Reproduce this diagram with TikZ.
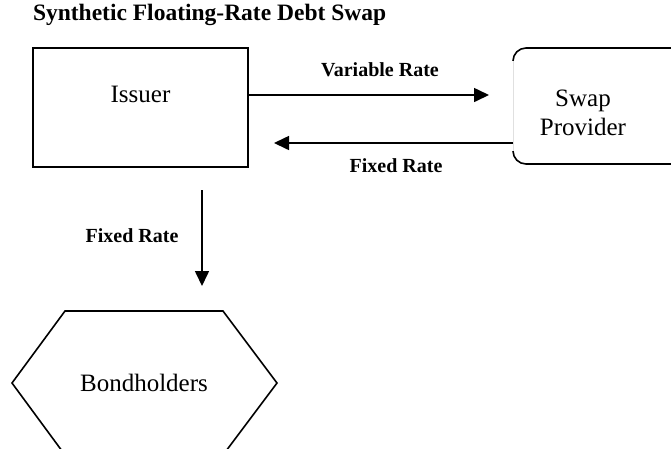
\documentclass[tikz,border=0pt]{standalone}
\usepackage{fontspec}
\setmainfont{Liberation Serif}
\usetikzlibrary{arrows.meta,calc}

\tikzset{
  x=1pt, y=-1pt,
  every node/.style={inner sep=0pt, outer sep=0pt},
  line/.style={line width=1.6pt},
  arr/.style={line width=1.6pt, -{Triangle[length=15pt,width=14pt]}},
  partybox/.style={draw, line width=1.6pt},
  bodytext/.style={font=\fontsize{25}{29}\selectfont, align=center},
  flowlabel/.style={font=\fontsize{20}{24}\selectfont\bfseries},
}

\begin{document}
\begin{tikzpicture}
  \useasboundingbox (0,0) rectangle (671,448);

  % heading
  \node[anchor=west, font=\fontsize{23.5}{28}\selectfont\bfseries] (title) at (33,15)
    {Synthetic Floating-Rate Debt Swap};

  % issuer
  \node[partybox, minimum width=215pt, minimum height=119pt] (issuer) at (140.5,107.5) {};
  \node[bodytext] (issuertext) at (140.5,94) {Issuer};

  % swap provider: rounded box running past the right margin
  \node[partybox, rounded corners=13pt, minimum width=190pt, minimum height=116pt,
        anchor=north west] (sp) at (513,48) {};
  \draw[white, line width=2.2pt] ([yshift=-13pt]sp.north west) -- ([yshift=13pt]sp.south west);
  \draw[black!12, line width=1pt] ([yshift=-13pt]sp.north west) -- ([yshift=13pt]sp.south west);
  \node[bodytext] (sptext) at (583,112.5) {Swap\\Provider};

  % bondholders: hexagon cut by the lower margin
  \node[bodytext] (bh) at (144,383) {Bondholders};
  \draw[line, line join=miter] (65,311) -- (223,311) -- (277,383) -- (223,455)
    -- (65,455) -- (12,383) -- cycle;

  % flows
  \coordinate (varend) at (489,95);
  \coordinate (fixstart) at (513,143);
  \coordinate (fixend) at (274,143);
  \coordinate (downstart) at (202,190);
  \coordinate (downend) at (202,286);

  \draw[arr] (issuer.east |- varend) -- (varend);
  \draw[arr] (fixstart) -- (fixend);
  \draw[arr] (downstart) -- (downend);

  \node[flowlabel] (varlabel) at (380,70) {Variable Rate};
  \node[flowlabel] (fixlabel) at (396,166) {Fixed Rate};
  \node[flowlabel] (downlabel) at (132,236) {Fixed Rate};
\end{tikzpicture}
\end{document}
